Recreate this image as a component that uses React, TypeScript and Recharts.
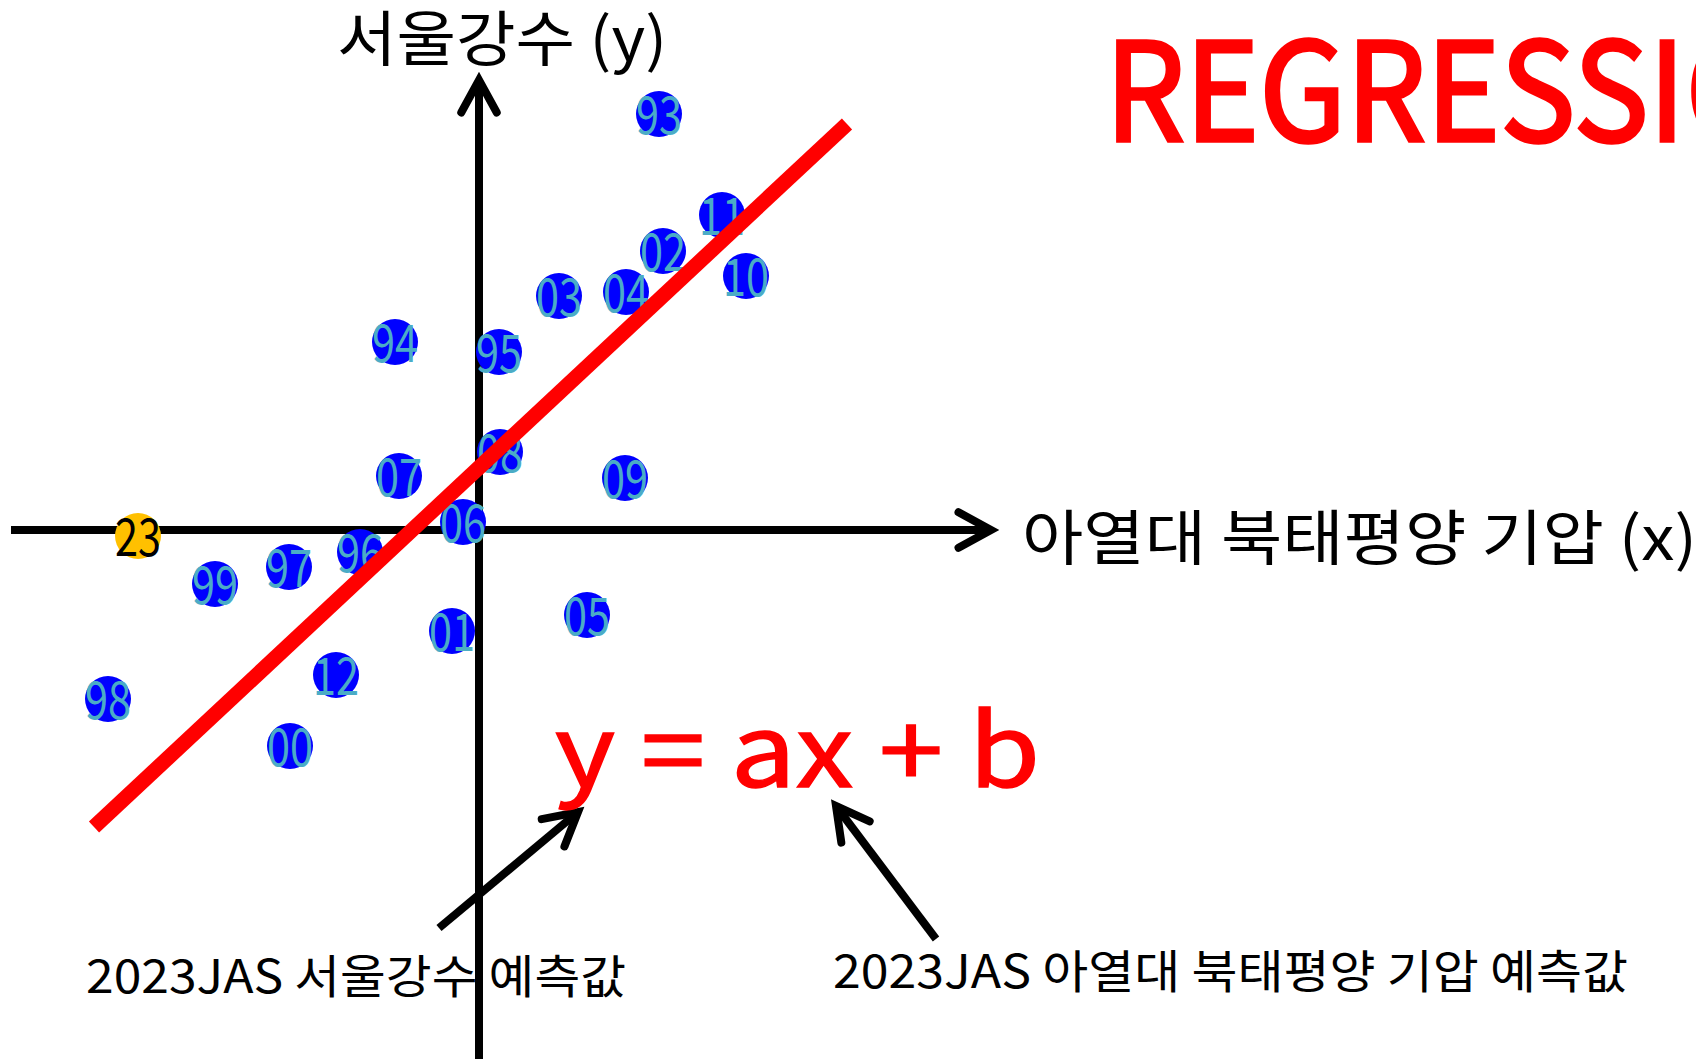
import React from 'react';
import { ScatterChart, Scatter, XAxis, YAxis, ReferenceLine } from 'recharts';

// year labels, North Pacific high index (x) and Seoul rainfall (y), standardised anomalies
const years = ['93', '11', '02', '10', '03', '04', '94', '95', '08', '07', '09', '06', '96', '97', '99', '05', '01', '12', '98', '00'];
const pressureX = [1.8, 2.43, 1.84, 2.67, 0.8, 1.47, -0.84, 0.2, 0.21, -0.8, 1.46, -0.16, -1.19, -1.9, -2.64, 1.08, -0.27, -1.43, -3.71, -1.89];
const rainY = [4.16, 3.15, 2.79, 2.54, 2.34, 2.38, 1.88, 1.78, 0.78, 0.54, 0.52, 0.08, -0.22, -0.37, -0.54, -0.85, -1.01, -1.45, -1.69, -2.16];

// 2023 forecast point
const forecastYears = ['23'];
const forecastX = [-3.41];
const forecastY = [-0.06];

// regression line end points
const regX = [-3.85, 3.68];
const regY = [-2.97, 4.06];

const X_DOMAIN: [number, number] = [-4.79, 12.17];
const Y_DOMAIN: [number, number] = [-5.29, 5.3];

const W = 1696;
const H = 1059;
const FONT = '"Noto Sans CJK KR", "Noto Sans", sans-serif';

const points = years.map((label, i) => ({ x: pressureX[i], y: rainY[i], label }));
const forecast = forecastYears.map((label, i) => ({ x: forecastX[i], y: forecastY[i], label }));

const YearDot = (fill: string, textColor: string) => (props: any) => {
  const { cx, cy, payload } = props;
  return (
    <g>
      <circle cx={cx} cy={cy} r={23} fill={fill} />
      <text
        x={cx}
        y={cy - 3}
        textAnchor="middle"
        dominantBaseline="central"
        fontFamily={FONT}
        fontSize={52}
        fill={textColor}
        textLength={46}
        lengthAdjust="spacingAndGlyphs"
      >
        {payload.label}
      </text>
    </g>
  );
};

// line with an open chevron head at (x2, y2)
const ArrowShape = (props: any) => {
  const { x1, y1, x2, y2, stroke, strokeWidth } = props;
  const ang = Math.atan2(y2 - y1, x2 - x1);
  const len = 37;
  const spread = 0.5;
  const ax = x2 - len * Math.cos(ang - spread);
  const ay = y2 - len * Math.sin(ang - spread);
  const bx = x2 - len * Math.cos(ang + spread);
  const by = y2 - len * Math.sin(ang + spread);
  return (
    <g>
      <line x1={x1} y1={y1} x2={x2} y2={y2} stroke={stroke} strokeWidth={strokeWidth} />
      <polyline
        points={`${ax},${ay} ${x2},${y2} ${bx},${by}`}
        fill="none"
        stroke={stroke}
        strokeWidth={strokeWidth}
        strokeLinecap="round"
        strokeLinejoin="miter"
      />
    </g>
  );
};

export default function App() {
  return (
    <div style={{ position: 'absolute', left: 0, top: 0, width: W, height: H, overflow: 'hidden', background: '#fff' }}>
      <ScatterChart width={W} height={H} margin={{ top: 0, right: 0, bottom: 0, left: 0 }}>
        <XAxis type="number" dataKey="x" domain={X_DOMAIN} hide allowDataOverflow />
        <YAxis type="number" dataKey="y" domain={Y_DOMAIN} hide width={0} allowDataOverflow />

        {/* axes */}
        <ReferenceLine
          segment={[{ x: -4.68, y: 0 }, { x: 5.12, y: 0 }]}
          stroke="#000"
          strokeWidth={8}
          ifOverflow="visible"
          shape={ArrowShape}
          zIndex={100}
        />
        <ReferenceLine
          segment={[{ x: 0, y: -5.29 }, { x: 0, y: 4.5 }]}
          stroke="#000"
          strokeWidth={8}
          ifOverflow="visible"
          shape={ArrowShape}
          zIndex={100}
        />

        <Scatter data={points} shape={YearDot('#0000ff', '#4bacc6')} isAnimationActive={false} />
        <Scatter data={forecast} shape={YearDot('#ffc000', '#000')} isAnimationActive={false} />

        <ReferenceLine
          segment={[{ x: regX[0], y: regY[0] }, { x: regX[1], y: regY[1] }]}
          stroke="#ff0000"
          strokeWidth={15}
          ifOverflow="visible"
          zIndex={800}
        />

        {/* annotation arrows */}
        <ReferenceLine
          segment={[{ x: -0.4, y: -3.98 }, { x: 0.99, y: -2.82 }]}
          stroke="#000"
          strokeWidth={8}
          ifOverflow="visible"
          shape={ArrowShape}
          zIndex={800}
        />
        <ReferenceLine
          segment={[{ x: 4.57, y: -4.09 }, { x: 3.57, y: -2.76 }]}
          stroke="#000"
          strokeWidth={8}
          ifOverflow="visible"
          shape={ArrowShape}
          zIndex={800}
        />
      </ScatterChart>

      <svg
        width={W}
        height={H}
        style={{ position: 'absolute', left: 0, top: 0, pointerEvents: 'none' }}
        fontFamily={FONT}
      >
        <text x={337} y={61} fontSize={60} fill="#000" textLength={330} lengthAdjust="spacingAndGlyphs">
          서울강수 (y)
        </text>
        <text
          x={1105}
          y={141}
          fontSize={137}
          fill="#ff0000"
          stroke="#ff0000"
          strokeWidth={3.5}
          textLength={765}
          lengthAdjust="spacingAndGlyphs"
        >
          REGRESSION
        </text>
        <text x={1022} y={560} fontSize={60} fill="#000" textLength={675} lengthAdjust="spacingAndGlyphs">
          아열대 북태평양 기압 (x)
        </text>
        <text
          x={555}
          y={787}
          fontSize={100}
          fill="#ff0000"
          stroke="#ff0000"
          strokeWidth={1.5}
          textLength={485}
          lengthAdjust="spacingAndGlyphs"
        >
          y = ax + b
        </text>
        <text x={86} y={993} fontSize={46} fill="#000" textLength={540} lengthAdjust="spacingAndGlyphs">
          2023JAS 서울강수 예측값
        </text>
        <text x={833} y={988} fontSize={46} fill="#000" textLength={795} lengthAdjust="spacingAndGlyphs">
          2023JAS 아열대 북태평양 기압 예측값
        </text>
      </svg>
    </div>
  );
}
